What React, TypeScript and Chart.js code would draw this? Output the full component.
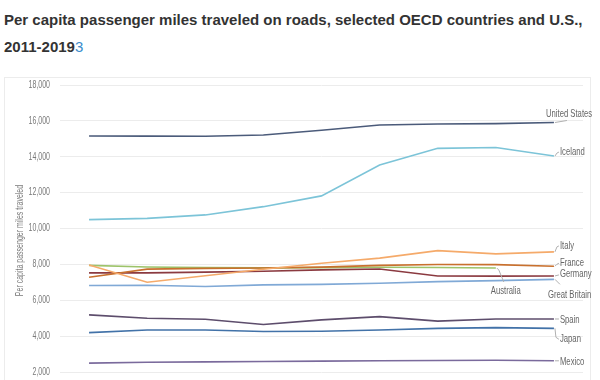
import React, { useEffect, useRef } from "react";
import { Chart, registerables } from "chart.js";

Chart.register(...registerables);

const years = [2011, 2012, 2013, 2014, 2015, 2016, 2017, 2018, 2019];
const yTicks = [0, 2000, 4000, 6000, 8000, 10000, 12000, 14000, 16000, 18000];
const yTitle = "Per capita passenger miles traveled";

const unitedStates = [15160, 15150, 15140, 15210, 15480, 15770, 15830, 15850, 15910];
const iceland = [10500, 10570, 10760, 11220, 11820, 13540, 14470, 14520, 14040];
const italy = [7970, 7010, 7370, 7730, 8070, 8350, 8770, 8590, 8700];
const france = [7290, 7740, 7780, 7800, 7850, 7950, 8000, 7990, 7900];
const germany = [7530, 7530, 7570, 7620, 7700, 7750, 7360, 7350, 7360];
const australia = [7950, 7860, 7820, 7810, 7820, 7840, 7830, 7800, null];
const greatBritain = [6830, 6840, 6770, 6860, 6890, 6950, 7040, 7100, 7170];
const spain = [5190, 5000, 4950, 4650, 4910, 5090, 4840, 4960, 4960];
const japan = [4200, 4350, 4350, 4260, 4280, 4350, 4440, 4480, 4440];
const mexico = [2500, 2550, 2570, 2590, 2610, 2630, 2645, 2660, 2630];

const seriesNames = [
  "United States",
  "Iceland",
  "Italy",
  "France",
  "Germany",
  "Australia",
  "Great Britain",
  "Spain",
  "Japan",
  "Mexico",
];
const seriesValues = [unitedStates, iceland, italy, france, germany, australia, greatBritain, spain, japan, mexico];
const seriesColors = [
  "#4b5b7a",
  "#7cc4d8",
  "#f5aa6a",
  "#c8702e",
  "#8b3a40",
  "#9dc36a",
  "#80a9d6",
  "#5d4d6c",
  "#4272a8",
  "#7a6a9c",
];

// label placement relative to the last point: text offset and connector path
const labelLayout: Record<string, { dx: number; dy: number; align: string; path: number[][] }> = {
  "United States": { dx: -8, dy: -9, align: "left", path: [[1, 0], [13, -2]] },
  Iceland: { dx: 6, dy: -4, align: "left", path: [[1, 0], [3, -3], [5, -4]] },
  Italy: { dx: 6, dy: -6, align: "left", path: [[1, 0], [3, -5], [5, -6]] },
  France: { dx: 6, dy: -3, align: "left", path: [[1, 0], [3, -2], [5, -3]] },
  Germany: { dx: 6, dy: -2, align: "left", path: [[1, 0], [5, -1]] },
  Australia: { dx: 10, dy: 23, align: "center", path: [[1, 0], [3, 2], [8, 14]] },
  "Great Britain": { dx: -6, dy: 16, align: "left", path: [[1, 0], [6, 5]] },
  Spain: { dx: 6, dy: 1, align: "left", path: [[1, 0], [5, 0]] },
  Japan: { dx: 6, dy: 11, align: "left", path: [[1, 0], [2, 9], [5, 11]] },
  Mexico: { dx: 6, dy: 1, align: "left", path: [[1, 0], [5, 0]] },
};

const FONT = '"Liberation Sans", Arial, sans-serif';
const SQUEEZE = 0.7;

function narrowText(ctx: any, text: string, x: number, y: number, align: string) {
  ctx.save();
  ctx.translate(x, y);
  ctx.scale(SQUEEZE, 1);
  ctx.textAlign = align;
  ctx.fillText(text, 0, 0);
  ctx.restore();
}

const customText = {
  id: "customText",
  afterDraw(chart: any) {
    const ctx = chart.ctx;
    const ys = chart.scales.y;
    const area = chart.chartArea;
    ctx.save();
    // y ticks
    ctx.fillStyle = "#7a7a7a";
    ctx.font = "10px " + FONT;
    ctx.textBaseline = "middle";
    yTicks.forEach((v) => {
      narrowText(ctx, v.toLocaleString("en-US"), area.left - 10, ys.getPixelForValue(v), "right");
    });
    // y title
    ctx.save();
    ctx.translate(16, (area.top + area.bottom) / 2 - 6);
    ctx.rotate(-Math.PI / 2);
    ctx.scale(SQUEEZE, 1);
    ctx.font = "10px " + FONT;
    ctx.textAlign = "center";
    ctx.textBaseline = "middle";
    ctx.fillStyle = "#7a7a7a";
    ctx.fillText(yTitle, 0, 0);
    ctx.restore();

    // end labels
    chart.data.datasets.forEach((ds: any, i: number) => {
      const meta = chart.getDatasetMeta(i);
      let idx = ds.data.length - 1;
      while (idx >= 0 && (ds.data[idx] === null || ds.data[idx].y === null)) idx--;
      if (idx < 0) return;
      const pt = meta.data[idx];
      const lay = labelLayout[ds.label];
      if (!lay) return;
      ctx.strokeStyle = "#b0b0b0";
      ctx.lineWidth = 1;
      ctx.beginPath();
      lay.path.forEach((p, k) => {
        if (k === 0) ctx.moveTo(pt.x + p[0], pt.y + p[1]);
        else ctx.lineTo(pt.x + p[0], pt.y + p[1]);
      });
      ctx.stroke();
      ctx.fillStyle = "#666";
      ctx.font = "11px " + FONT;
      ctx.textBaseline = "middle";
      narrowText(ctx, ds.label, pt.x + lay.dx, pt.y + lay.dy, lay.align);
    });
    ctx.restore();
  },
};

export default function App() {
  const ref = useRef<HTMLCanvasElement>(null);
  useEffect(() => {
    if (!ref.current) return;
    const chart = new Chart(ref.current, {
      type: "line",
      data: {
        datasets: seriesNames.map((name, i) => ({
          label: name,
          data: years.map((yr, j) => ({ x: yr, y: seriesValues[i][j] })),
          borderColor: seriesColors[i],
          backgroundColor: seriesColors[i],
          borderWidth: 1.6,
          pointRadius: 0,
          tension: 0,
          spanGaps: false,
        })),
      },
      options: {
        animation: false,
        responsive: false,
        maintainAspectRatio: false,
        layout: { padding: { top: 8, right: 13, bottom: 29, left: 0 } },
        plugins: { legend: { display: false }, tooltip: { enabled: false } },
        scales: {
          x: {
            type: "linear",
            min: 2010.5,
            max: 2019.5,
            display: false,
          },
          y: {
            min: 0,
            max: 18000,
            afterBuildTicks: (s: any) => {
              s.ticks = yTicks.map((v) => ({ value: v }));
            },
            afterFit: (s: any) => {
              s.width = 56;
            },
            border: { display: false },
            grid: { color: "#ececec", lineWidth: 1, drawTicks: false },
            ticks: { display: false },
          },
        },
      },
      plugins: [customText],
    });
    return () => chart.destroy();
  }, []);

  return (
    <div style={{ position: "absolute", left: 0, top: 0, width: 600, height: 380, overflow: "hidden", background: "#fff" }}>
      <div
        style={{
          position: "absolute",
          left: 4,
          top: 6,
          width: 590,
          fontFamily: '"Liberation Sans", Arial, sans-serif',
          fontWeight: "bold",
          fontSize: 15,
          lineHeight: "27px",
          color: "#333",
        }}
      >
        Per capita passenger miles traveled on roads, selected OECD countries and U.S.,
        <br />
        2011-2019<span style={{ color: "#3a8ccc", fontWeight: "normal" }}>3</span>
      </div>
      <div
        style={{
          position: "absolute",
          left: 4,
          top: 77,
          width: 585,
          height: 320,
          border: "1px solid #ececec",
        }}
      />
      <canvas ref={ref} width={592} height={360} style={{ position: "absolute", left: 4, top: 77, width: 592, height: 360 }} />
    </div>
  );
}
